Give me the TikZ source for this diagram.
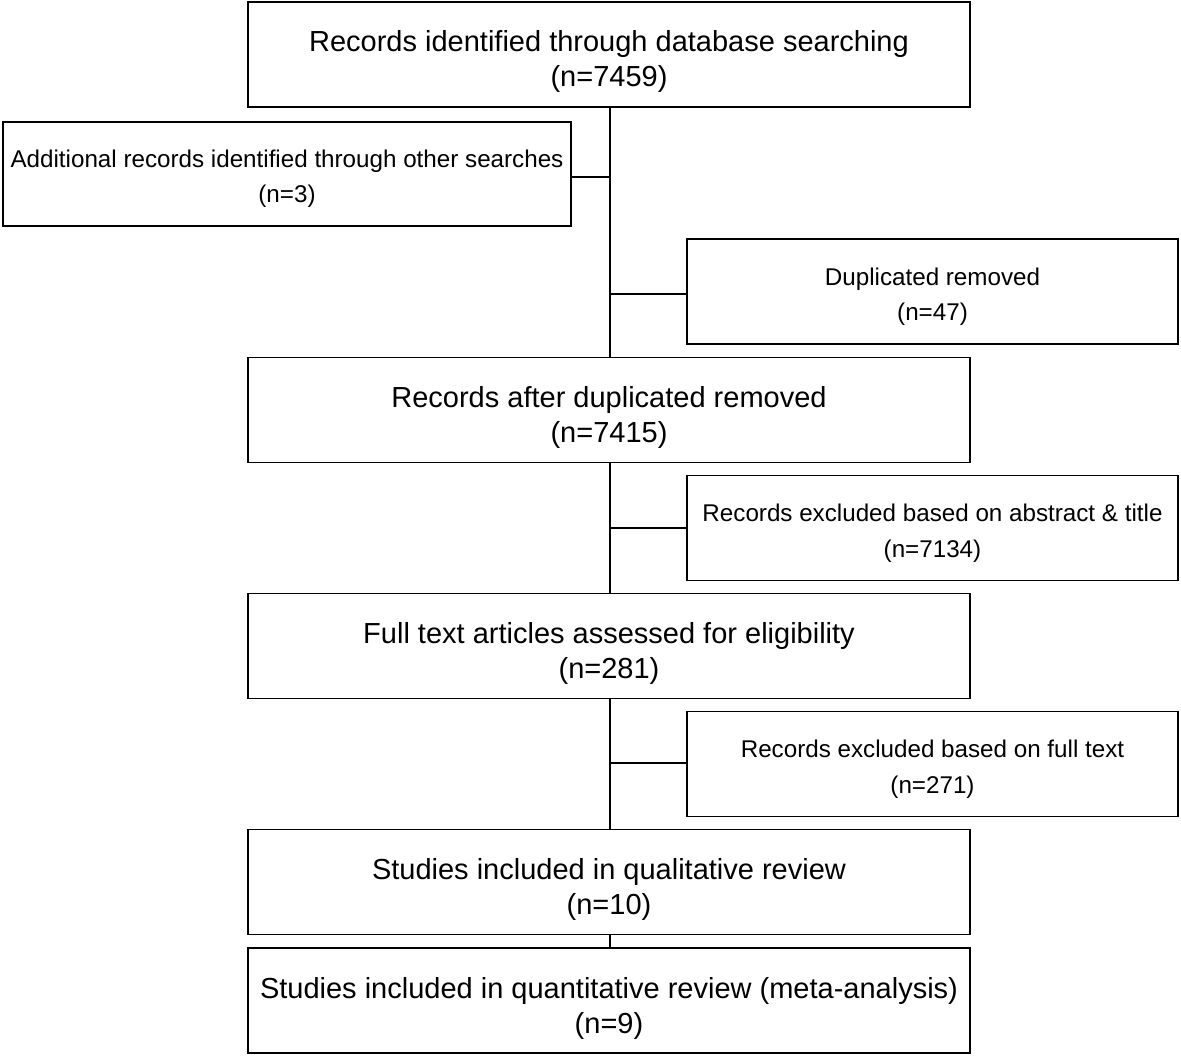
\documentclass[tikz,border=0pt]{standalone}
\usepackage{fontspec}
\setmainfont{Liberation Sans}
\newcommand\bigdn{\rule{0pt}{36pt}}
\newcommand\sidedn{\rule{0pt}{28pt}}
\begin{document}
\begin{tikzpicture}[x=1pt,y=-1pt,
  box/.style={draw=black,line width=1.8pt,inner sep=0pt,align=center},
  big/.style={box,minimum width=722pt,minimum height=105pt,font=\fontsize{29}{35}\selectfont},
  side/.style={box,minimum width=491pt,minimum height=105pt,font=\fontsize{24.2}{35.5}\selectfont},
  conn/.style={line width=1.8pt}]
\useasboundingbox (0,0) rectangle (1181,1057);
\node[big] (b1) at (609,54.5) {\bigdn Records identified through database searching\\(n=7459)};
\node[box,minimum width=568pt,minimum height=104pt,font=\fontsize{24.2}{35}\selectfont] (b2) at (287,174) {\sidedn Additional records identified through other searches\\(n=3)};
\node[side] (b3) at (932.5,291.5) {\sidedn Duplicated removed\\(n=47)};
\node[big] (b4) at (609,410) {\bigdn Records after duplicated removed\\(n=7415)};
\node[side] (b5) at (932.5,528) {\sidedn Records excluded based on abstract \& title\\(n=7134)};
\node[big] (b6) at (609,646) {\bigdn Full text articles assessed for eligibility\\(n=281)};
\node[side] (b7) at (932.5,764) {\sidedn Records excluded based on full text\\(n=271)};
\node[big] (b8) at (609,882) {\bigdn Studies included in qualitative review\\(n=10)};
\node[big] (b9) at (609,1000.5) {\bigdn Studies included in quantitative review (meta-analysis)\\(n=9)};
\coordinate (j1) at (610,177);
\coordinate (j2) at (610,294);
\coordinate (j3) at (610,528);
\coordinate (j4) at (610,763);
\draw[conn] (b1.south -| j1) -- (b4.north -| j1);
\draw[conn] (b2.east |- j1) -- (j1);
\draw[conn] (j2) -- (b3.west |- j2);
\draw[conn] (b4.south -| j3) -- (b6.north -| j3);
\draw[conn] (j3) -- (b5.west |- j3);
\draw[conn] (b6.south -| j4) -- (b8.north -| j4);
\draw[conn] (j4) -- (b7.west |- j4);
\draw[conn] (b8.south -| j4) -- (b9.north -| j4);
\end{tikzpicture}
\end{document}
